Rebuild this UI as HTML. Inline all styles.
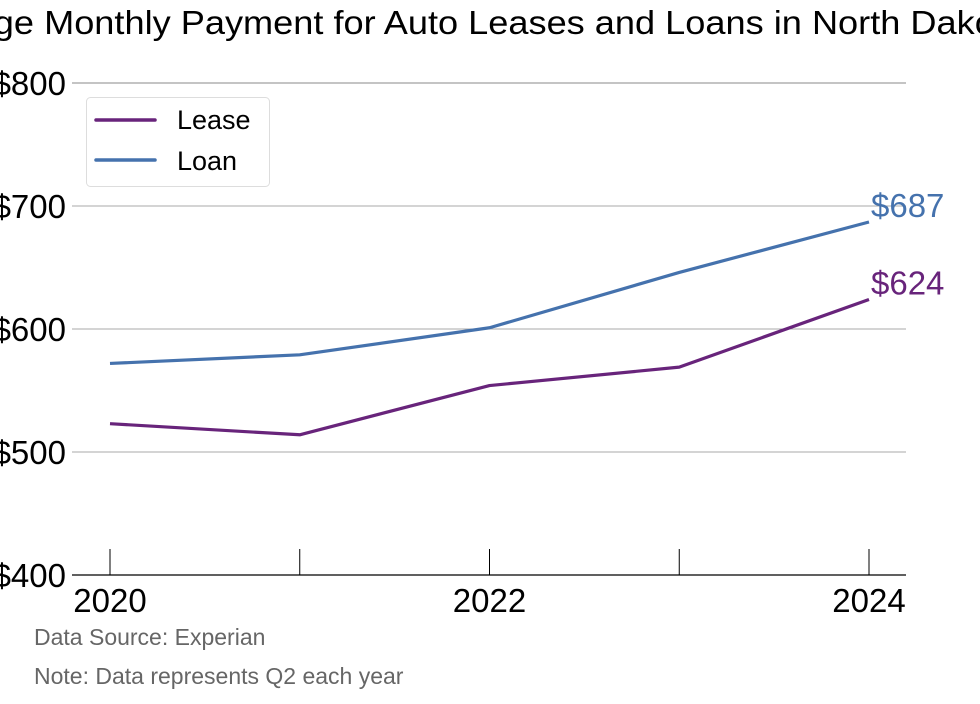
<!DOCTYPE html>
<html><head><meta charset="utf-8"><style>
body{margin:0;background:#fff;width:980px;height:699px;overflow:hidden}
svg text{font-family:"Liberation Sans",sans-serif}
</style></head><body>
<svg id="chart" width="980" height="699" viewBox="0 0 980 699">
<text x="-100" y="34" font-size="33" textLength="1125" lengthAdjust="spacingAndGlyphs" fill="#000">Average Monthly Payment for Auto Leases and Loans in North Dakota</text>
<g id="grid"></g>
<g id="lines"></g>
<g>
<rect x="86.5" y="97.5" width="183" height="89" rx="4" fill="#fff" stroke="#ddd"/>
<line x1="96" y1="120" x2="155" y2="120" stroke="#68247b" stroke-width="3.5" stroke-linecap="round"/>
<text x="177" y="129" font-size="27">Lease</text>
<line x1="96" y1="160" x2="155" y2="160" stroke="#4572ad" stroke-width="3.5" stroke-linecap="round"/>
<text x="177" y="170" font-size="27">Loan</text>
</g>
<text x="34" y="645" font-size="23" fill="#666">Data Source: Experian</text>
<text x="34" y="684" font-size="23" fill="#666">Note: Data represents Q2 each year</text>
</svg>
<script>
const years=[2020,2021,2022,2023,2024];
const lease=[523,514,554,569,624];
const loan=[572,579,601,646,687];
const yTicks=[400,500,600,700,800];
const xLabels=["2020","","2022","","2024"];
const NS="http://www.w3.org/2000/svg";
const xs=y=>110+(y-2020)*189.75;
const ys=v=>575-(v-400)*1.23;
function mk(tag,attrs,parent,txt){const e=document.createElementNS(NS,tag);for(const k in attrs)e.setAttribute(k,attrs[k]);if(txt!==undefined)e.textContent=txt;parent.appendChild(e);return e;}
const grid=document.getElementById('grid'),lines=document.getElementById('lines');
yTicks.forEach(t=>{
  if(t>400){const g=mk('line',{x1:72,x2:906,y1:ys(t),y2:ys(t),stroke:t===800?'#888':'#aaa','stroke-width':1},grid);
  
  }
  const l=mk('text',{x:66,y:ys(t)+12,'font-size':33,'text-anchor':'end'},grid,'$'+t);
  
  
});
const ax=mk('line',{x1:72,x2:906,y1:575,y2:575,stroke:'#000','stroke-width':1.3},grid);


years.forEach((y,i)=>{
  const t=mk('line',{x1:xs(y),x2:xs(y),y1:549,y2:575,stroke:'#000','stroke-width':1},grid);
  
  
  if(xLabels[i]){const l=mk('text',{x:xs(y),y:612,'font-size':33,'text-anchor':'middle'},grid,xLabels[i]);
  
  }
});
function series(vals,color,name){
  const p=mk('polyline',{points:vals.map((v,i)=>xs(years[i])+','+ys(v)).join(' '),fill:'none',stroke:color,'stroke-width':3.2,'stroke-linejoin':'round'},lines);
  
  
  const v=vals[vals.length-1];
  const l=mk('text',{x:xs(years[years.length-1])+2,y:ys(v)-5,'font-size':33,fill:color},lines,'$'+v);
  
  
}
series(lease,'#68247b','lease');
series(loan,'#4572ad','loan');
</script>
</body></html>
